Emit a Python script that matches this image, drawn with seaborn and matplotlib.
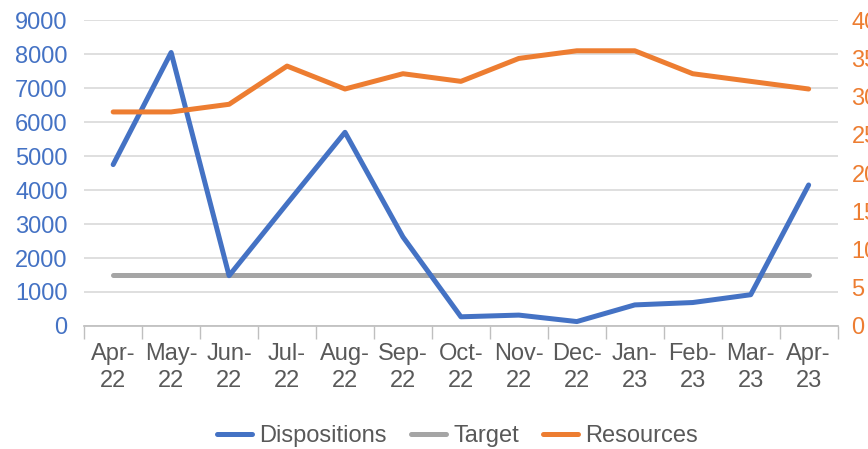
import numpy as np
import pandas as pd
import matplotlib
matplotlib.use("Agg")
import matplotlib.pyplot as plt
import seaborn as sns
from matplotlib.lines import Line2D

# --- Data ---
months = ["Apr-\n22", "May-\n22", "Jun-\n22", "Jul-\n22", "Aug-\n22", "Sep-\n22", "Oct-\n22",
          "Nov-\n22", "Dec-\n22", "Jan-\n23", "Feb-\n23", "Mar-\n23", "Apr-\n23"]
dispositions = [4750, 8050, 1480, 3600, 5700, 2620, 270, 320, 130, 620, 690, 920, 4150]
target = [1500] * 13
resources = [28, 28, 29, 34, 31, 33, 32, 35, 36, 36, 33, 32, 31]

df = pd.DataFrame({"x": np.arange(len(months)), "Dispositions": dispositions,
                   "Target": target, "Resources": resources})

sns.set_theme(style="white")
plt.rcParams["font.family"] = ["Liberation Sans", "DejaVu Sans"]

blue, orange, gray = "#4472C4", "#ED7D31", "#A5A5A5"
lw = 3.6
fs = 17

fig = plt.figure(figsize=(8.68, 4.49), dpi=100)
ax = fig.add_axes([0.097, 0.274, 0.868, 0.681])
ax2 = ax.twinx()

sns.lineplot(data=df, x="x", y="Target", ax=ax, color=gray, linewidth=lw, zorder=2)
sns.lineplot(data=df, x="x", y="Dispositions", ax=ax, color=blue, linewidth=lw, zorder=3)
sns.lineplot(data=df, x="x", y="Resources", ax=ax2, color=orange, linewidth=lw)

ax.set_xlim(-0.5, len(months) - 0.5)
ax.set_ylim(0, 9000)
ax2.set_ylim(0, 40)
ax.set_yticks(np.arange(0, 9001, 1000))
ax2.set_yticks(np.arange(0, 41, 5))

ax.grid(axis="y", color="#D9D9D9", linewidth=1.2)
ax.set_axisbelow(True)
for a in (ax, ax2):
    for s in a.spines.values():
        s.set_visible(False)
    a.set_xlabel("")
    a.set_ylabel("")
ax.spines["bottom"].set_visible(True)
ax.spines["bottom"].set_color("#BFBFBF")

ax.set_xticks(np.arange(len(months)))
ax.set_xticklabels(months, color="#595959", fontsize=fs, linespacing=1.3)
ax.set_xticks(np.arange(-0.5, len(months)), minor=True)
ax.tick_params(axis="x", which="major", length=0, pad=12)
ax.tick_params(axis="x", which="minor", length=9, color="#BFBFBF", width=1, bottom=True)
ax.tick_params(axis="y", length=0, labelsize=fs, labelcolor=blue, pad=12)
ax2.tick_params(axis="y", length=0, labelsize=fs, labelcolor=orange, pad=10)

handles = [Line2D([], [], color=blue, linewidth=lw),
           Line2D([], [], color=gray, linewidth=lw),
           Line2D([], [], color=orange, linewidth=lw)]
fig.legend(handles, ["Dispositions", "Target", "Resources"], loc="center",
           bbox_to_anchor=(0.527, 0.028), ncol=3, frameon=False, fontsize=fs,
           handlelength=1.5, handletextpad=0.3, columnspacing=1.0, labelcolor="#595959")

fig.savefig("out.png", dpi=100)
